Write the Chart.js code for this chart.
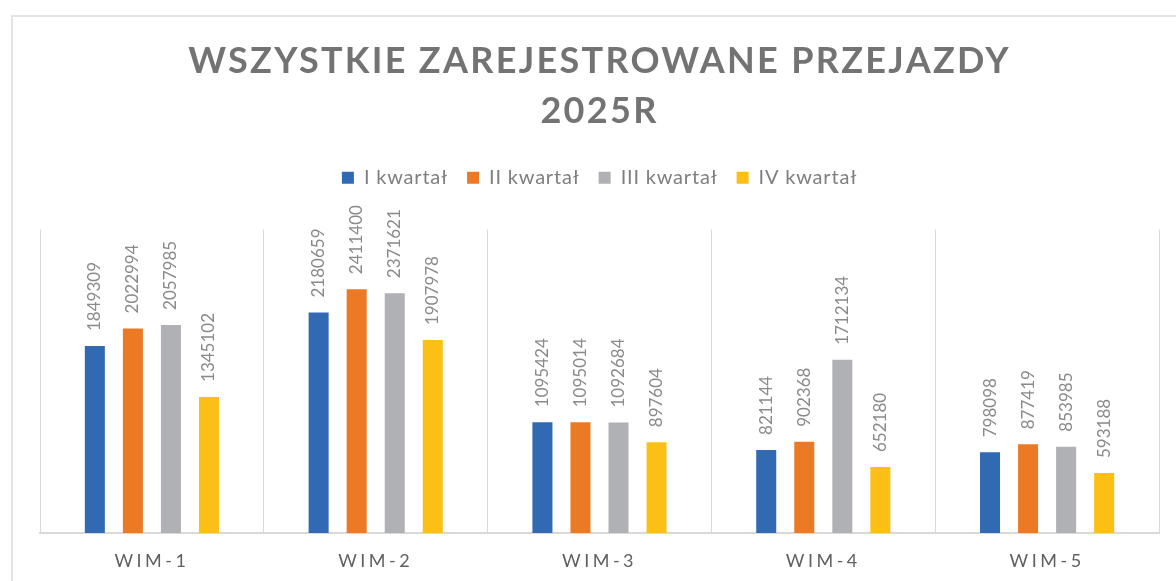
<!DOCTYPE html>
<html lang="pl">
<head>
<meta charset="UTF-8">
<title>Wszystkie zarejestrowane przejazdy 2025R</title>
<script src="https://cdn.jsdelivr.net/npm/chart.js"></script>
<style>
    html, body { margin: 0; padding: 0; background: #fff; overflow: hidden; }
    .ramka { position: absolute; left: 11px; top: 15px; width: 1300px; height: 700px;
             border-left: 2px solid #e3e3e3; border-top: 2px solid #e3e3e3; }
    .wykres { position: absolute; left: 0; top: 0; width: 1176px; height: 581px; }
</style>
</head>
<body>
<div class="ramka"></div>
<div class="wykres"><canvas id="chart"></canvas></div>
<script>
    const stacje = ['WIM-1', 'WIM-2', 'WIM-3', 'WIM-4', 'WIM-5'];
    const kwartalI = [1849309, 2180659, 1095424, 821144, 798098];
    const kwartalII = [2022994, 2411400, 1095014, 902368, 877419];
    const kwartalIII = [2057985, 2371621, 1092684, 1712134, 853985];
    const kwartalIV = [1345102, 1907978, 897604, 652180, 593188];
    const nazwySerii = ['I kwartał', 'II kwartał', 'III kwartał', 'IV kwartał'];
    const tytul = ['WSZYSTKIE ZAREJESTROWANE PRZEJAZDY', '2025R'];

    const kolory = ['#3169b2', '#ec7a25', '#b0b1b4', '#fbbf15'];

    // wartosci pionowo nad slupkami
    const etykiety = {
        id: 'etykiety',
        afterDatasetsDraw(chart) {
            const ctx = chart.ctx;
            ctx.save();
            ctx.font = '17px Lato';
            ctx.fillStyle = '#8a8a8a';
            ctx.textAlign = 'left';
            ctx.textBaseline = 'middle';
            chart.data.datasets.forEach((ds, i) => {
                chart.getDatasetMeta(i).data.forEach((bar, j) => {
                    ctx.save();
                    ctx.translate(bar.x, bar.y - 15);
                    ctx.rotate(-Math.PI / 2);
                    ctx.fillText(String(ds.data[j]), 0, 0);
                    ctx.restore();
                });
            });
            ctx.restore();
        }
    };

    // owija metode tak, zeby rysowala z rozstrzelonym tekstem
    function rozstrzel(obj, nazwa, ctx, odstep) {
        const orig = obj[nazwa];
        obj[nazwa] = function () {
            ctx.save();
            ctx.letterSpacing = odstep;
            const wynik = orig.apply(this, arguments);
            ctx.restore();
            return wynik;
        };
    }

    const odstepy = {
        id: 'odstepy',
        afterInit(chart) {
            rozstrzel(chart.titleBlock, 'draw', chart.ctx, '2.3px');
            const leg = chart.legend;
            rozstrzel(leg, 'draw', chart.ctx, '0.8px');
            const fit = leg.fit;
            leg.fit = function () {
                chart.ctx.save();
                chart.ctx.letterSpacing = '0.8px';
                fit.apply(this, arguments);
                chart.ctx.restore();
                this.height += 32;
            };
        },
        afterLayout(chart) {
            const x = chart.scales.x;
            if (x._rozstrzelone) return;
            rozstrzel(x, 'drawLabels', chart.ctx, '3.5px');
            x._rozstrzelone = true;
        }
    };

    const serie = [kwartalI, kwartalII, kwartalIII, kwartalIV];

    new Chart(document.getElementById('chart'), {
        type: 'bar',
        data: {
            labels: stacje,
            datasets: serie.map((dane, i) => ({
                label: nazwySerii[i],
                data: dane,
                backgroundColor: kolory[i],
                categoryPercentage: 0.68,
                barPercentage: 0.526
            }))
        },
        options: {
            responsive: true,
            maintainAspectRatio: false,
            animation: false,
            layout: { padding: { left: 40, right: 17, top: 0, bottom: 8 } },
            plugins: {
                title: {
                    display: true,
                    text: tytul,
                    color: '#737373',
                    font: { family: 'Lato', size: 36, weight: 'bold', lineHeight: 1.37 },
                    padding: { top: 37, bottom: 13 }
                },
                legend: {
                    position: 'top',
                    labels: {
                        boxWidth: 12,
                        boxHeight: 12,
                        padding: 19,
                        color: '#7f7f7f',
                        font: { family: 'Lato', size: 20 }
                    }
                },
                tooltip: { enabled: false }
            },
            scales: {
                x: {
                    grid: { color: '#d9d9d9', lineWidth: 1, drawTicks: false, offset: true },
                    border: { color: '#d9d9d9', width: 2 },
                    ticks: { color: '#606060', padding: 17, font: { family: 'Lato', size: 18 } },
                    afterFit(scale) { scale.height = 40; }
                },
                y: {
                    display: false,
                    min: 0,
                    max: 3000000
                }
            }
        },
        plugins: [etykiety, odstepy]
    });
</script>
</body>
</html>
